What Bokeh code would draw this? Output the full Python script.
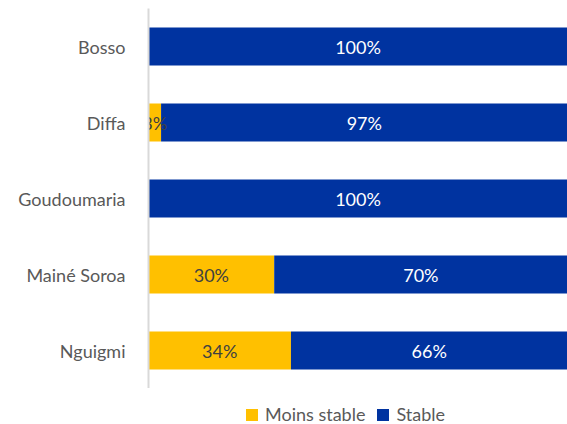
from bokeh.plotting import figure
from bokeh.layouts import column
from bokeh.models import ColumnDataSource, Legend, LegendItem, Range1d, FactorRange
from bokeh.core.properties import value
from bokeh.embed import file_html
from bokeh.resources import INLINE

regions = ["Bosso", "Diffa", "Goudoumaria", "Mainé Soroa", "Nguigmi"]
moins_stable = [0, 3, 0, 30, 34]
stable = [100, 97, 100, 70, 66]
series_names = ["Moins stable", "Stable"]
colors = ["#FFC000", "#0033A0"]

FONT = "Lato"
FS = "18px"

src = ColumnDataSource(dict(region=regions, ms=moins_stable, st=stable))

p = figure(width=567, height=388, y_range=FactorRange(factors=regions[::-1]),
           x_range=Range1d(0, 100), output_backend="svg", toolbar_location=None,
           min_border_left=148, min_border_right=0, min_border_top=8, min_border_bottom=0)
p.y_range.range_padding = 0

r = p.hbar_stack(["ms", "st"], y="region", height=0.5, color=colors, source=src,
                 line_color=None)

lab_ms_x, lab_ms_y, lab_ms_t = [], [], []
lab_st_x, lab_st_y, lab_st_t = [], [], []
for reg, a, b in zip(regions, moins_stable, stable):
    if a > 0:
        lab_ms_x.append(a / 2)
        lab_ms_y.append(reg)
        lab_ms_t.append(f"{a}%")
    if b > 0:
        lab_st_x.append(a + b / 2)
        lab_st_y.append(reg)
        lab_st_t.append(f"{b}%")

p.text(x=lab_ms_x, y=lab_ms_y, text=lab_ms_t, text_align="center", text_baseline="middle",
       text_font=value(FONT), text_font_size=FS, text_color="#404040")
p.text(x=lab_st_x, y=lab_st_y, text=lab_st_t, text_align="center", text_baseline="middle",
       text_font=value(FONT), text_font_size=FS, text_color="#FFFFFF")

p.xaxis.visible = False
p.xgrid.visible = False
p.ygrid.visible = False
p.outline_line_color = None

ax = p.yaxis[0]
ax.axis_line_color = "#D9D9D9"
ax.axis_line_width = 2
ax.major_tick_line_color = None
ax.minor_tick_line_color = None
ax.major_label_standoff = 17
ax.major_label_text_font = FONT
ax.major_label_text_font_size = FS
ax.major_label_text_color = "#595959"

# legend strip (proxy glyphs placed outside the visible range)
lg = figure(width=567, height=36, x_range=Range1d(0, 1), y_range=Range1d(0, 1),
            output_backend="svg", toolbar_location=None,
            min_border_left=0, min_border_right=0, min_border_top=0, min_border_bottom=0)
lg.axis.visible = False
lg.grid.visible = False
lg.outline_line_color = None
lr = [lg.rect(x=[-5], y=[-5], width=0.01, height=0.01, fill_color=c, line_color=None)
      for c in colors]

legend = Legend(items=[LegendItem(label=series_names[i], renderers=[lr[i]]) for i in range(2)],
                orientation="horizontal", location=(96, -1),
                label_text_font=FONT, label_text_font_size=FS, label_text_color="#595959",
                glyph_width=15, glyph_height=15, spacing=10, label_standoff=6,
                border_line_color=None, background_fill_alpha=0, padding=3, margin=0)
lg.add_layout(legend, "center")

layout = column(p, lg, spacing=0)
open("out.html", "w").write(file_html(layout, INLINE))
